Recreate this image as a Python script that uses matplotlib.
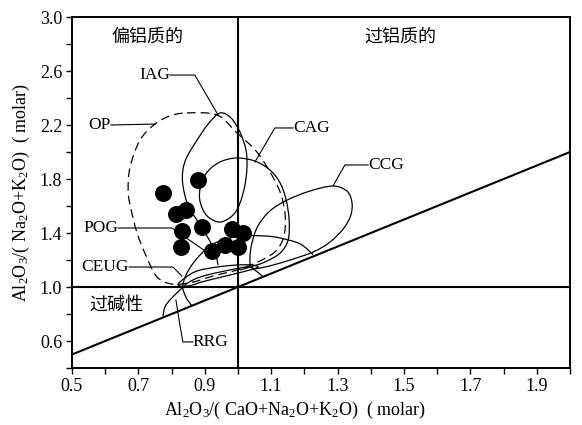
"""Maniar & Piccoli A/CNK vs A/NK discrimination diagram."""
import matplotlib
matplotlib.use("Agg")
import matplotlib.pyplot as plt
import numpy as np
from matplotlib.path import Path
from matplotlib.patches import PathPatch


# sample points (A/CNK, A/NK)
SAMPLE_ACNK = [0.774, 0.880, 0.813, 0.843, 0.831, 0.892, 0.828, 0.922, 0.961, 0.982, 1.015, 1.000]
SAMPLE_ANK = [1.696, 1.793, 1.541, 1.570, 1.415, 1.444, 1.296, 1.267, 1.311, 1.430, 1.400, 1.296]

# field outlines
OP_X = [0.846, 0.937, 0.997, 1.057, 1.105, 1.130, 1.142, 1.139, 1.117, 1.072, 1.006, 0.925,
        0.860, 0.801, 0.756, 0.726, 0.696, 0.675, 0.669, 0.675, 0.705, 0.750, 0.795]
OP_Y = [2.289, 2.274, 2.141, 2.000, 1.815, 1.681, 1.533, 1.385, 1.274, 1.200, 1.133, 1.081,
        1.034, 1.022, 1.074, 1.215, 1.400, 1.607, 1.719, 1.889, 2.089, 2.207, 2.267]

IAG_X = [0.940, 0.931, 0.910, 0.880, 0.849, 0.834, 0.834, 0.846, 0.877, 0.910, 0.946, 0.979,
         1.006, 1.024, 1.027, 1.021, 1.006, 0.985, 0.946, 0.907, 0.886, 0.886, 0.901, 0.922]
IAG_Y = [1.163, 1.259, 1.363, 1.481, 1.607, 1.756, 1.867, 1.963, 2.089, 2.207, 2.289, 2.252,
         2.148, 2.015, 1.889, 1.756, 1.622, 1.533, 1.481, 1.526, 1.630, 1.733, 1.830, 1.889]

CAG_X = [0.922, 0.952, 0.997, 1.051, 1.096, 1.127, 1.145, 1.154, 1.151, 1.127, 1.081, 1.036, 1.006]
CAG_Y = [1.889, 1.933, 1.956, 1.933, 1.867, 1.770, 1.644, 1.496, 1.348, 1.252, 1.185, 1.148, 1.126]

CCG_X = [1.042, 1.081, 1.148, 1.226, 1.277, 1.319, 1.340, 1.343, 1.328, 1.286, 1.217, 1.148,
         1.096, 1.060, 1.042, 1.036]
CCG_Y = [1.141, 1.148, 1.193, 1.259, 1.333, 1.437, 1.533, 1.630, 1.711, 1.748, 1.711, 1.644,
         1.563, 1.452, 1.326, 1.215]

POG_X = [0.861, 0.843, 0.834, 0.855, 0.901, 0.952, 1.021, 1.081, 1.127, 1.187, 1.226]
POG_Y = [0.861, 0.926, 1.015, 1.141, 1.274, 1.348, 1.378, 1.378, 1.363, 1.319, 1.240]

CEUG_X = [0.819, 0.840, 0.877, 0.937, 0.997, 1.042, 1.060, 1.036, 0.976, 0.901, 0.849]
CEUG_Y = [1.015, 1.067, 1.119, 1.148, 1.163, 1.163, 1.148, 1.126, 1.089, 1.044, 1.007]

RRG_X = [0.774, 0.780, 0.795, 0.819, 0.849, 0.886, 0.946, 1.027, 1.051, 1.075]
RRG_Y = [0.785, 0.852, 0.904, 0.963, 1.030, 1.074, 1.111, 1.148, 1.126, 1.075]

# label text, anchor point, leader line
FIELD_LABELS = [
    ("IAG", 0.795, 2.570, "right", [0.795, 0.870, 0.940], [2.570, 2.570, 2.274]),
    ("OP", 0.617, 2.200, "right", [0.617, 0.750], [2.200, 2.207]),
    ("CAG", 1.166, 2.178, "left", [1.166, 1.111, 1.051], [2.178, 2.178, 1.926]),
    ("CCG", 1.392, 1.904, "left", [1.392, 1.322, 1.286], [1.904, 1.904, 1.748]),
    ("POG", 0.639, 1.437, "right", [0.639, 0.801, 0.901], [1.437, 1.437, 1.267]),
    ("CEUG", 0.672, 1.148, "right", [0.672, 0.804, 0.831], [1.148, 1.148, 1.081]),
    ("RRG", 0.864, 0.593, "left", [0.864, 0.834, 0.825, 0.813], [0.593, 0.593, 0.719, 0.904]),
]
REGION_LABELS = [("偏铝质的", 0.726, 2.852), ("过铝质的", 1.488, 2.852), ("过碱性", 0.633, 0.867)]

X_TICKS = [0.5, 0.6, 0.7, 0.8, 0.9, 1.0, 1.1, 1.2, 1.3, 1.4, 1.5, 1.6, 1.7, 1.8, 1.9, 2.0]
X_TICK_LABELS = ["0.5", "", "0.7", "", "0.9", "", "1.1", "", "1.3", "", "1.5", "", "1.7", "", "1.9", ""]
Y_TICKS = [0.4, 0.6, 0.8, 1.0, 1.2, 1.4, 1.6, 1.8, 2.0, 2.2, 2.4, 2.6, 2.8, 3.0]
Y_TICK_LABELS = ["", "0.6", "", "1.0", "", "1.4", "", "1.8", "", "2.2", "", "2.6", "", "3.0"]

SERIF = "Liberation Serif"
CJK = ["Noto Sans CJK SC", "DejaVu Sans"]

plt.rcParams["mathtext.fontset"] = "custom"
plt.rcParams["mathtext.rm"] = SERIF
plt.rcParams["mathtext.it"] = SERIF + ":italic"
plt.rcParams["mathtext.default"] = "rm"


def smooth_path(xs, ys, closed=False):
    """Catmull-Rom through the read points, drawn as cubic Bezier segments."""
    pts = np.column_stack([xs, ys]).astype(float)
    n = len(pts)
    if closed:
        idx = lambda i: pts[i % n]
        nseg = n
    else:
        idx = lambda i: pts[min(max(i, 0), n - 1)]
        nseg = n - 1
    verts = [pts[0]]
    codes = [Path.MOVETO]
    for i in range(nseg):
        p0, p1, p2, p3 = idx(i - 1), idx(i), idx(i + 1), idx(i + 2)
        verts += [p1 + (p2 - p0) / 6, p2 - (p3 - p1) / 6, p2]
        codes += [Path.CURVE4] * 3
    return Path(verts, codes)


def add_field(ax, xs, ys, closed=False, ls="-"):
    patch = PathPatch(smooth_path(xs, ys, closed), fill=False, lw=0.9,
                      ls=ls, edgecolor="black")
    ax.add_patch(patch)


fig = plt.figure(figsize=(5.82, 4.25), dpi=100)
ax = fig.add_axes([0.1237, 0.1341, 0.8557, 0.8259])

# boundaries
ax.plot([1.0, 1.0], [0.4, 3.0], color="black", lw=1.5)
ax.plot([0.5, 2.0], [1.0, 1.0], color="black", lw=1.5)
ax.plot([0.5, 2.0], [0.5, 2.0], color="black", lw=1.5)

add_field(ax, OP_X, OP_Y, closed=True, ls=(0, (7, 4)))
add_field(ax, IAG_X, IAG_Y)
add_field(ax, CAG_X, CAG_Y)
add_field(ax, CCG_X, CCG_Y, closed=True)
add_field(ax, POG_X, POG_Y)
add_field(ax, CEUG_X, CEUG_Y, closed=True)
add_field(ax, RRG_X, RRG_Y)

for name, tx, ty, ha, lx, ly in FIELD_LABELS:
    ax.plot(lx, ly, color="black", lw=0.8)
    ax.text(tx, ty, name, ha=ha, va="center", fontsize=12.5, family=SERIF)

for name, tx, ty in REGION_LABELS:
    ax.text(tx, ty, name, ha="center", va="center", fontsize=13, family=CJK)

ax.scatter(SAMPLE_ACNK, SAMPLE_ANK, s=125, color="black", zorder=5)

ax.set_xlim(0.5, 2.0)
ax.set_ylim(0.4, 3.0)
ax.set_xticks(X_TICKS)
ax.set_xticklabels(X_TICK_LABELS, family=SERIF, fontsize=13)
ax.set_yticks(Y_TICKS)
ax.set_yticklabels(Y_TICK_LABELS, family=SERIF, fontsize=13)
ax.tick_params(direction="out", length=4, width=1.0, pad=3)
for sp in ax.spines.values():
    sp.set_linewidth(1.4)

fig.text(0.507, 0.035, r"Al$_2$O$_3$/( CaO+Na$_2$O+K$_2$O)  ( molar)",
         ha="center", va="center", fontsize=13, family=SERIF)
fig.text(0.036, 0.548, r"Al$_2$O$_3$/( Na$_2$O+K$_2$O)  ( molar)",
         ha="center", va="center", rotation=90, fontsize=13, family=SERIF)

fig.savefig("out.png", dpi=100)
plt.close(fig)
